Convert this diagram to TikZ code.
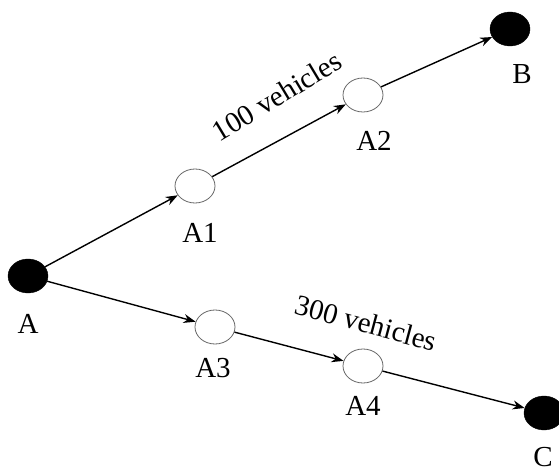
\documentclass[tikz,border=0pt]{standalone}
\usepackage{fontspec}
\setmainfont{Liberation Serif}
\usetikzlibrary{shapes.geometric,arrows.meta}
\begin{document}
\begin{tikzpicture}[x=1pt,y=-1pt,
  endpt/.style={ellipse,fill=black,draw=black,minimum width=40pt,minimum height=34pt,inner sep=0pt},
  midpt/.style={ellipse,fill=white,draw=black!60,line width=0.8pt,minimum width=40pt,minimum height=34pt,inner sep=0pt},
  lbl/.style={font=\fontsize{29}{32}\selectfont,inner sep=0pt},
  link/.style={line width=1.4pt,-{Stealth[length=12pt,width=9pt]}}]
\useasboundingbox (0,0) rectangle (559,470);
\node[endpt] (A) at (28,276) {};
\node[midpt] (A1) at (195,186) {};
\node[midpt] (A2) at (363,95) {};
\node[endpt] (B) at (510,29) {};
\node[midpt] (A3) at (215,327) {};
\node[midpt] (A4) at (363,366) {};
\node[endpt] (C) at (544,413) {};
\node[lbl] (lA) at (28,324) {A};
\node[lbl] (lA1) at (200,233) {A1};
\node[lbl] (lA2) at (374,141) {A2};
\node[lbl] (lB) at (522,74) {B};
\node[lbl] (lA3) at (213,368) {A3};
\node[lbl] (lA4) at (363,406) {A4};
\node[lbl] (lC) at (543,457) {C};
\draw[link] (A) -- (A1);
\draw[link] (A1) -- (A2);
\draw[link] (A2) -- (B);
\draw[link] (A) -- (A3);
\draw[link] (A3) -- (A4);
\draw[link] (A4) -- (C);
\node[lbl,rotate=31] (t1) at (277,96) {100 vehicles};
\node[lbl,rotate=-15] (t2) at (366,323) {300 vehicles};
\end{tikzpicture}
\end{document}
